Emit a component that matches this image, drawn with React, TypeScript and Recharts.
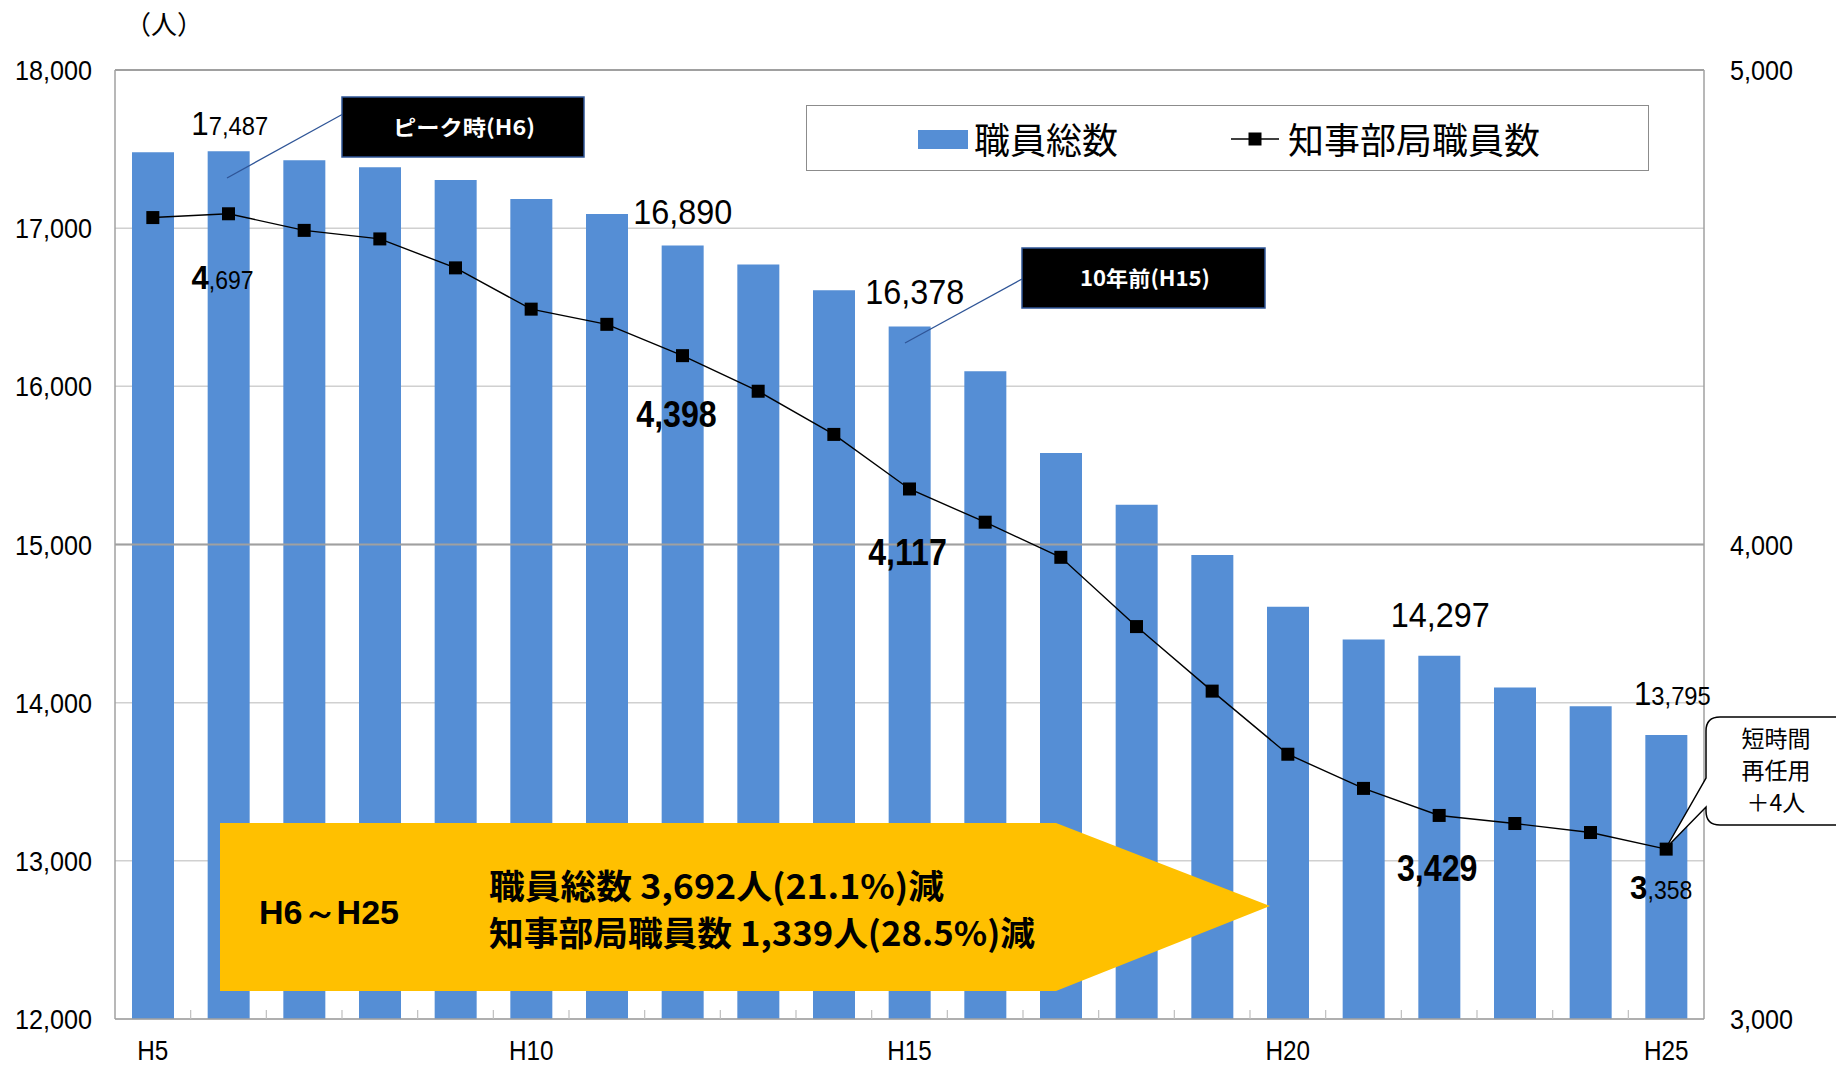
import {
  ComposedChart,
  Bar,
  Line,
  XAxis,
  YAxis,
  CartesianGrid,
  Legend,
  LabelList,
  ReferenceLine,
} from "recharts";

// 年度
const years = [
  "H5", "H6", "H7", "H8", "H9", "H10", "H11", "H12", "H13", "H14", "H15",
  "H16", "H17", "H18", "H19", "H20", "H21", "H22", "H23", "H24", "H25",
];
// 職員総数（左軸）
const totalStaff = [
  17480, 17487, 17430, 17385, 17304, 17185, 17089, 16890, 16770, 16607, 16378,
  16096, 15578, 15252, 14933, 14607, 14400, 14297, 14096, 13978, 13795,
];
// 知事部局職員数（右軸）
const governorStaff = [
  4689, 4697, 4662, 4644, 4583, 4496, 4464, 4398, 4323, 4232, 4117,
  4047, 3973, 3827, 3691, 3558, 3486, 3429, 3412, 3393, 3358,
];
const leftTicks = [12000, 13000, 14000, 15000, 16000, 17000, 18000];
const rightTicks = [3000, 4000, 5000];
const xTickLabels = ["H5", "H10", "H15", "H20", "H25"];
const labelledYears = ["H6", "H12", "H15", "H22", "H25"];

const data = years.map((y, i) => ({
  year: y,
  total: totalStaff[i],
  governor: governorStaff[i],
}));

const BLUE = "#558ED5";
const NUM_FONT = "'Liberation Sans', Arial, 'Noto Sans', sans-serif";
const CJK_FONT = "'Noto Sans CJK JP','Noto Sans CJK SC',sans-serif";

const fmt = (v: number) => v.toLocaleString("en-US");

// label placement (px offsets from the mark)
const barLift: Record<string, [number, number]> = {
  H6: [1, 16],
  H12: [0, 22],
  H15: [5, 23],
  H22: [1, 29],
  H25: [6, 30],
};
const lineDrop: Record<string, [number, number]> = {
  H6: [-6, 75],
  H12: [-6, 71],
  H15: [-2, 76],
  H22: [-2, 66],
  H25: [-5, 50],
};

// condensed text: scale horizontally around the anchor point
const Narrow = ({ x, y, sx, children, ...rest }: any) => (
  <g transform={`translate(${x},${y}) scale(${sx},1)`}>
    <text x={0} y={0} fontFamily={NUM_FONT} fill="#000" {...rest}>
      {children}
    </text>
  </g>
);

const BarLabel = (props: any) => {
  const { x, y, width, index, value } = props;
  const cat = years[index];
  if (!labelledYears.includes(cat)) return null;
  const [dx, lift] = barLift[cat];
  const cx = x + width / 2 + dx;
  const s = fmt(value);
  if (cat === "H6" || cat === "H25") {
    return (
      <Narrow x={cx} y={y - lift} sx={0.95} textAnchor="middle">
        <tspan fontSize={33}>{s[0]}</tspan>
        <tspan fontSize={25}>{s.slice(1)}</tspan>
      </Narrow>
    );
  }
  return (
    <Narrow x={cx} y={y - lift} sx={0.9} textAnchor="middle" fontSize={36}>
      {s}
    </Narrow>
  );
};

const LineLabel = (props: any) => {
  const { x, y, index, value } = props;
  const cat = years[index];
  if (!labelledYears.includes(cat)) return null;
  const [dx, drop] = lineDrop[cat];
  const s = fmt(value);
  if (cat === "H6" || cat === "H25") {
    return (
      <Narrow x={x + dx} y={y + drop} sx={0.92} textAnchor="middle">
        <tspan fontSize={34} fontWeight="bold">{s[0]}</tspan>
        <tspan fontSize={25}>{s.slice(1)}</tspan>
      </Narrow>
    );
  }
  return (
    <Narrow x={x + dx} y={y + drop} sx={0.87} textAnchor="middle" fontWeight="bold" fontSize={37}>
      {s}
    </Narrow>
  );
};

const SquareDot = (p: any) => (
  <rect key={`dot-${p.index}`} x={p.cx - 6.5} y={p.cy - 6.5} width={13} height={13} fill="#000" />
);

// category ticks: small inward marks on the category borders, labels every 5 years
const XTick = (props: any) => {
  const { x, y, payload, index } = props;
  const half = payload.offset || 0;
  const axisY = y - 26;
  return (
    <g>
      {index < years.length - 1 && (
        <line x1={x + half} y1={axisY} x2={x + half} y2={axisY - 9} stroke="#bfbfbf" strokeWidth={1.2} />
      )}
      {xTickLabels.includes(payload.value) && (
        <Narrow x={x} y={y + 15} sx={0.9} textAnchor="middle" fontSize={27}>
          {payload.value}
        </Narrow>
      )}
    </g>
  );
};

const LeftTick = (props: any) => {
  const { x, y, payload } = props;
  return (
    <Narrow x={x} y={y + 10} sx={0.9} textAnchor="end" fontSize={28}>
      {fmt(payload.value)}
    </Narrow>
  );
};

const RightTick = (props: any) => {
  const { x, y, payload } = props;
  return (
    <Narrow x={x} y={y + 10} sx={0.9} textAnchor="start" fontSize={28}>
      {fmt(payload.value)}
    </Narrow>
  );
};

const renderLegend = () => (
  <div
    style={{
      width: 843,
      height: 66,
      boxSizing: "border-box",
      border: "1.5px solid #8c8c8c",
      background: "#fff",
      position: "relative",
      fontFamily: CJK_FONT,
      color: "#000",
    }}
  >
    <div style={{ position: "absolute", left: 111, top: 24, width: 50, height: 19, background: BLUE }} />
    <span style={{ position: "absolute", left: 167, top: 14, fontSize: 36, lineHeight: "36px" }}>
      職員総数
    </span>
    <svg style={{ position: "absolute", left: 424, top: 22 }} width={48} height={22}>
      <line x1={0} y1={11} x2={48} y2={11} stroke="#000" strokeWidth={1.5} />
      <rect x={17.5} y={4.5} width={13} height={13} fill="#000" />
    </svg>
    <span style={{ position: "absolute", left: 481, top: 14, fontSize: 36, lineHeight: "36px" }}>
      知事部局職員数
    </span>
  </div>
);

const Annotations = () => (
  <svg
    width={1836}
    height={1068}
    style={{ position: "absolute", left: 0, top: 0, pointerEvents: "none" }}
  >
    <text x={164} y={34} textAnchor="middle" fontFamily={CJK_FONT} fontSize={26} fill="#000">
      （人）
    </text>

    {/* peak callout */}
    <line x1={343} y1={114} x2={227} y2={178} stroke="#2F5597" strokeWidth={1.3} />
    <rect x={342} y={97} width={242} height={60} fill="#000" stroke="#2F5597" strokeWidth={1.5} />
    <text
      x={464}
      y={135}
      textAnchor="middle"
      fontFamily={CJK_FONT}
      fontWeight="bold"
      fontSize={21}
      fill="#fff"
      textLength={142}
      lengthAdjust="spacingAndGlyphs"
    >
      ピーク時(H6)
    </text>

    {/* 10 years ago callout */}
    <line x1={1022} y1={279} x2={905} y2={343} stroke="#2F5597" strokeWidth={1.3} />
    <rect x={1022} y={248} width={243} height={60} fill="#000" stroke="#2F5597" strokeWidth={1.5} />
    <text
      x={1145}
      y={286}
      textAnchor="middle"
      fontFamily={CJK_FONT}
      fontWeight="bold"
      fontSize={21}
      fill="#fff"
      textLength={130}
      lengthAdjust="spacingAndGlyphs"
    >
      10年前(H15)
    </text>

    {/* yellow arrow */}
    <polygon points="220,823 1056,823 1270,906 1056,991 220,991" fill="#FFC000" />
    <text
      x={259}
      y={924}
      fontFamily={NUM_FONT}
      fontWeight="bold"
      fontSize={33}
      fill="#000"
      textLength={140}
      lengthAdjust="spacingAndGlyphs"
    >
      H6～H25
    </text>
    <text
      x={489}
      y={899}
      fontFamily={CJK_FONT}
      fontWeight="bold"
      fontSize={34}
      fill="#000"
      textLength={455}
      lengthAdjust="spacingAndGlyphs"
    >
      職員総数 3,692人(21.1%)減
    </text>
    <text
      x={489}
      y={946}
      fontFamily={CJK_FONT}
      fontWeight="bold"
      fontSize={34}
      fill="#000"
      textLength={546}
      lengthAdjust="spacingAndGlyphs"
    >
      知事部局職員数 1,339人(28.5%)減
    </text>

    {/* short-time re-employment callout */}
    <path
      d="M1720,717 H1850 V825 H1720 Q1706,825 1706,811 V807 L1666,848 L1706,778 V731 Q1706,717 1720,717 Z"
      fill="#fff"
      stroke="#000"
      strokeWidth={1.5}
    />
    <g fontFamily={CJK_FONT} fontSize={23} fill="#000" textAnchor="middle">
      <text x={1776} y={747}>短時間</text>
      <text x={1776} y={779}>再任用</text>
      <text x={1776} y={811}>＋4人</text>
    </g>
  </svg>
);

export default function App() {
  return (
    <div
      style={{
        position: "absolute",
        left: 0,
        top: 0,
        width: 1836,
        height: 1068,
        background: "#fff",
      }}
    >
      <ComposedChart
        width={1836}
        height={1068}
        data={data}
        margin={{ top: 70, right: 12, bottom: 0, left: 15 }}
      >
        <CartesianGrid yAxisId="left" vertical={false} stroke="#d0d0d0" strokeWidth={1.5} />
        <XAxis
          dataKey="year"
          interval={0}
          height={49}
          tickLine={false}
          tickSize={0}
          tickMargin={26}
          axisLine={{ stroke: "#a0a0a0", strokeWidth: 1.5 }}
          tick={XTick}
        />
        <YAxis
          yAxisId="left"
          domain={[12000, 18000]}
          ticks={leftTicks}
          width={100}
          tickLine={false}
          tickSize={0}
          tickMargin={23}
          axisLine={{ stroke: "#a0a0a0", strokeWidth: 1.5 }}
          tick={LeftTick}
          allowDataOverflow
        />
        <YAxis
          yAxisId="right"
          orientation="right"
          domain={[3000, 5000]}
          ticks={rightTicks}
          width={120}
          tickLine={false}
          tickSize={0}
          tickMargin={26}
          axisLine={{ stroke: "#a0a0a0", strokeWidth: 1.5 }}
          tick={RightTick}
        />
        <ReferenceLine yAxisId="right" y={4000} stroke="#a0a0a0" strokeWidth={2} />
        <ReferenceLine yAxisId="right" y={5000} stroke="#a0a0a0" strokeWidth={2} />
        <Legend
          content={renderLegend}
          layout="horizontal"
          verticalAlign="middle"
          align="center"
          wrapperStyle={{ left: 806, top: 105, width: 843, height: 66 }}
        />
        <Bar
          yAxisId="left"
          dataKey="total"
          name="職員総数"
          fill={BLUE}
          barSize={42}
          isAnimationActive={false}
        >
          <LabelList dataKey="total" content={BarLabel} />
        </Bar>
        <Line
          yAxisId="right"
          dataKey="governor"
          name="知事部局職員数"
          stroke="#000"
          strokeWidth={1.4}
          dot={SquareDot}
          activeDot={false}
          isAnimationActive={false}
        >
          <LabelList dataKey="governor" content={LineLabel} />
        </Line>
      </ComposedChart>
      <Annotations />
    </div>
  );
}
